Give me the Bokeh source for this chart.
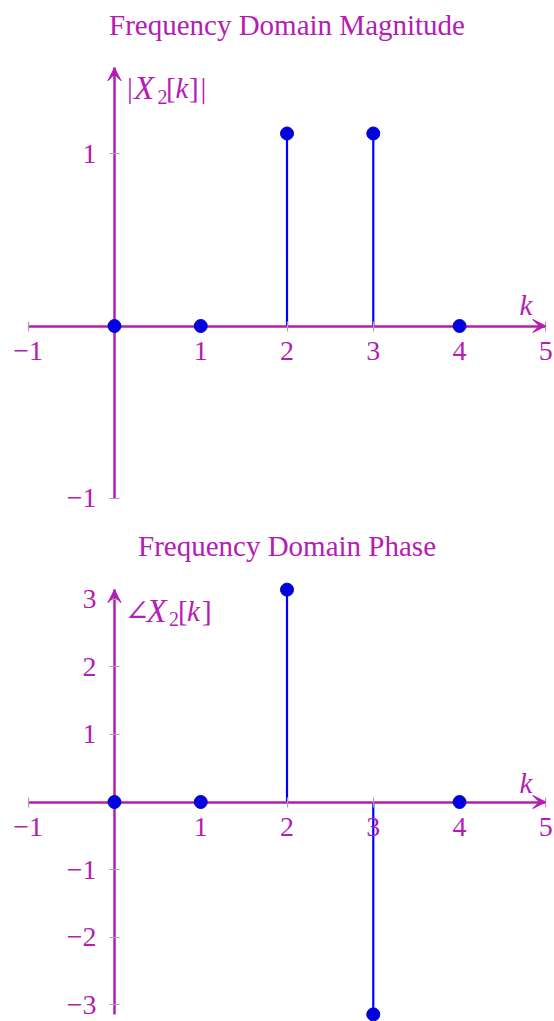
from bokeh.plotting import figure
from bokeh.layouts import column
from bokeh.models import Range1d, FixedTicker, Arrow, VeeHead
from bokeh.core.properties import value
from bokeh.embed import file_html
from bokeh.resources import INLINE

# DFT samples
k = [0, 1, 2, 3, 4]
magnitude = [0, 0, 1.118, 1.118, 0]
phase = [0, 0, 3.1416, -3.1416, 0]

# tick positions
x_ticks = [-1, 1, 2, 3, 4, 5]
mag_y_ticks = [-1, 1]
phase_y_ticks = [-3, -2, -1, 1, 2, 3]

# axis extents
x_axis_span = (-1, 5)
mag_axis_span = (-1, 1.5)
phase_axis_span = (-3.1416, 3.1416)

ACCENT = "#B41CB4"
STEM = "#0000FF"
MARK = "#0000E0"
TICK = "#A6A6A6"
SERIF = "Liberation Serif"
FS = "29px"
TICK_FS = "28px"

W = 554
PX_PER_K = 86.27
K_LEFT_PX = 27.7
x_lo = -1 - K_LEFT_PX / PX_PER_K
x_hi = x_lo + W / PX_PER_K


def fmt(t):
    return ("\u2212" + str(-t)) if t < 0 else str(t)


def panel(height, zero_px, ppu, title, title_base, y_span, y_ticks, values, label_parts, k_base):
    y_hi = zero_px / ppu
    y_lo = y_hi - height / ppu

    def yd(py):
        return (zero_px - py) / ppu

    def xd(px):
        return x_lo + px / PX_PER_K

    p = figure(width=W, height=height, output_backend="svg", toolbar_location=None,
               x_range=Range1d(x_lo, x_hi), y_range=Range1d(y_lo, y_hi),
               min_border=0, outline_line_color=None, background_fill_color="white",
               border_fill_color="white")
    p.xgrid.visible = False
    p.ygrid.visible = False

    for ax, ticks, span in ((p.xaxis[0], x_ticks, x_axis_span), (p.yaxis[0], y_ticks, y_span)):
        ax.fixed_location = 0
        ax.bounds = span
        ax.ticker = FixedTicker(ticks=ticks)
        ax.major_label_overrides = {t: fmt(t) for t in ticks}
        ax.axis_line_color = ACCENT
        ax.axis_line_width = 2.5
        ax.major_tick_line_color = TICK
        ax.major_tick_line_width = 1.2
        ax.major_tick_in = 5
        ax.major_tick_out = 5
        ax.minor_tick_line_color = None
        ax.major_label_text_color = ACCENT
        ax.major_label_text_font = SERIF
        ax.major_label_text_font_size = TICK_FS
    p.xaxis[0].major_label_standoff = 11
    p.yaxis[0].major_label_standoff = 13

    # arrow heads at the positive ends of both axes
    p.add_layout(Arrow(end=VeeHead(size=13, fill_color=ACCENT, line_color=ACCENT, line_width=1),
                       x_start=x_axis_span[1] - 0.05, y_start=0, x_end=x_axis_span[1], y_end=0,
                       line_color=ACCENT, line_width=2.5))
    p.add_layout(Arrow(end=VeeHead(size=13, fill_color=ACCENT, line_color=ACCENT, line_width=1),
                       x_start=0, y_start=y_span[1] - 0.05, x_end=0, y_end=y_span[1],
                       line_color=ACCENT, line_width=2.5))

    # stems and markers
    p.segment(x0=k, y0=[0] * len(k), x1=k, y1=values, line_color=STEM, line_width=2.2)
    dots = p.scatter(k, values, size=13, fill_color=MARK, line_color="#0000C8", line_width=1)
    dots.level = "overlay"

    # title
    p.text(x=[sum(x_axis_span) / 2], y=[yd(title_base)], text=[title], text_align="center",
           text_baseline="alphabetic", text_font=value(SERIF), text_font_size=FS,
           text_color=ACCENT)

    # y-axis label, assembled piece by piece
    for txt, left, base, style, size, font in label_parts:
        p.text(x=[xd(left)], y=[yd(base)], text=[txt], text_align="left",
               text_baseline="alphabetic", text_font=value(font), text_font_style=style,
               text_font_size=size, text_color=ACCENT)

    # x-axis label
    p.text(x=[xd(519)], y=[yd(k_base)], text=["k"], text_align="left",
           text_baseline="alphabetic", text_font=value(SERIF), text_font_style="italic",
           text_font_size=FS, text_color=ACCENT)
    return p


top_label = [
    ("|", 126.5, 87.5, "normal", FS, SERIF),
    ("X", 133.5, 87.5, "italic", "33px", SERIF),
    ("2", 157, 96, "normal", "20px", SERIF),
    ("[", 165.5, 87.5, "normal", FS, SERIF),
    ("k", 175, 87.5, "italic", FS, SERIF),
    ("]", 188.5, 87.5, "normal", FS, SERIF),
    ("|", 200, 87.5, "normal", FS, SERIF),
]
bottom_label = [
    ("\u2220", 124, 95, "normal", "30px", "DejaVu Serif"),
    ("X", 146, 95, "italic", "33px", SERIF),
    ("2", 168.5, 103, "normal", "20px", SERIF),
    ("[", 177.5, 95, "normal", FS, SERIF),
    ("k", 186.5, 95, "italic", FS, SERIF),
    ("]", 201.5, 95, "normal", FS, SERIF),
]

top = panel(515, 325.5, 172.2, "Frequency Domain Magnitude", 24.5,
            mag_axis_span, mag_y_ticks, magnitude, top_label, 304)
bottom = panel(506, 286.5, 67.6, "Frequency Domain Phase", 30,
               phase_axis_span, phase_y_ticks, phase, bottom_label, 267)

layout = column(top, bottom, spacing=0)
open("out.html", "w").write(file_html(layout, INLINE))
